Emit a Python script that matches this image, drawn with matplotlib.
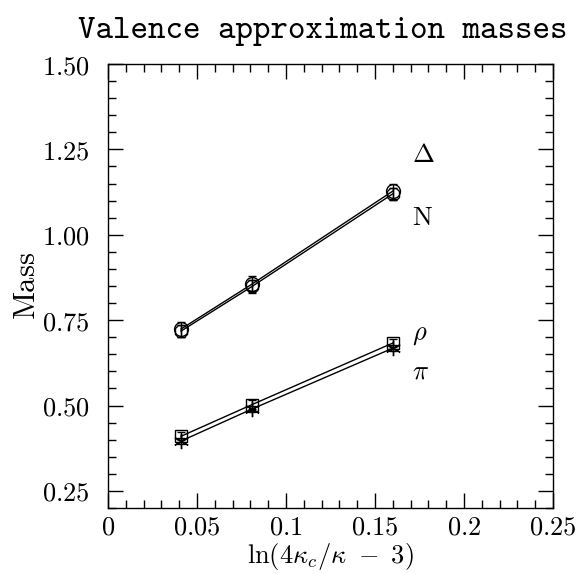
import os
import matplotlib
matplotlib.use("Agg")
import matplotlib.pyplot as plt
from matplotlib.ticker import MultipleLocator, FuncFormatter
from matplotlib.font_manager import FontProperties

plt.rcParams['mathtext.fontset'] = 'cm'

x = [0.041, 0.081, 0.160]
delta = [0.724, 0.856, 1.128]
delta_err = [0.022, 0.022, 0.022]
nucleon = [0.718, 0.849, 1.120]
nucleon_err = [0.018, 0.020, 0.018]
rho = [0.410, 0.503, 0.683]
rho_err = [0.012, 0.012, 0.012]
pion = [0.396, 0.490, 0.668]
pion_err = [0.008, 0.008, 0.008]

labels = [r'$\Delta$', r'$\mathrm{N}$', r'$\rho$', r'$\pi$']
label_x = 0.171
label_y = [1.233, 1.05, 0.71, 0.60]

fig = plt.figure(figsize=(5.84, 5.74), dpi=100)
ax = fig.add_axes([0.185, 0.115, 0.762, 0.7735])

common = dict(color='black', lw=1.0, capsize=3, elinewidth=1.0, capthick=1.0,
              markerfacecolor='none', markeredgecolor='black', markeredgewidth=1.0)
ax.errorbar(x, delta, yerr=delta_err, marker='o', ms=10, **common)
ax.errorbar(x, nucleon, yerr=nucleon_err, marker='8', ms=10, **common)
ax.errorbar(x, rho, yerr=rho_err, marker='s', ms=9, **common)
ax.errorbar(x, pion, yerr=pion_err, marker=(6, 2, 0), ms=11, **common)

for lab, ly in zip(labels, label_y):
    ax.text(label_x, ly, lab, fontsize=19, ha='left', va='center')

ax.set_xlim(0, 0.25)
ax.set_ylim(0.2, 1.5)
ax.xaxis.set_major_locator(MultipleLocator(0.05))
ax.xaxis.set_minor_locator(MultipleLocator(0.01))
ax.yaxis.set_major_locator(MultipleLocator(0.25))
ax.yaxis.set_minor_locator(MultipleLocator(0.05))
ax.tick_params(which='both', direction='in', top=True, right=True, width=1.0)
ax.tick_params(which='major', length=11, labelsize=19)
ax.tick_params(which='minor', length=5.5)
ax.tick_params(axis='x', which='major', pad=5)
ax.tick_params(axis='y', which='major', pad=13)

def xfmt(v, pos):
    s = ('%.2f' % v).rstrip('0').rstrip('.') if abs(v) > 1e-9 else '0'
    return r'$%s$' % s
def yfmt(v, pos):
    return r'$%.2f$' % v
ax.xaxis.set_major_formatter(FuncFormatter(xfmt))
ax.yaxis.set_major_formatter(FuncFormatter(yfmt))
for sp in ax.spines.values():
    sp.set_linewidth(1.0)

ax.set_xlabel(r'$\ln(4\kappa_c/\kappa\ -\ 3)$', fontsize=19, labelpad=0)
ax.set_ylabel(r'$\mathrm{Mass}$', fontsize=22, labelpad=1)

tt_path = os.path.join(matplotlib.get_data_path(), 'fonts', 'ttf', 'cmtt10.ttf')
tt = FontProperties(fname=tt_path, size=24)
fig.text(0.553, 0.945, 'Valence approximation masses', fontproperties=tt,
         ha='center', va='center')

fig.savefig('out.png', dpi=100)
